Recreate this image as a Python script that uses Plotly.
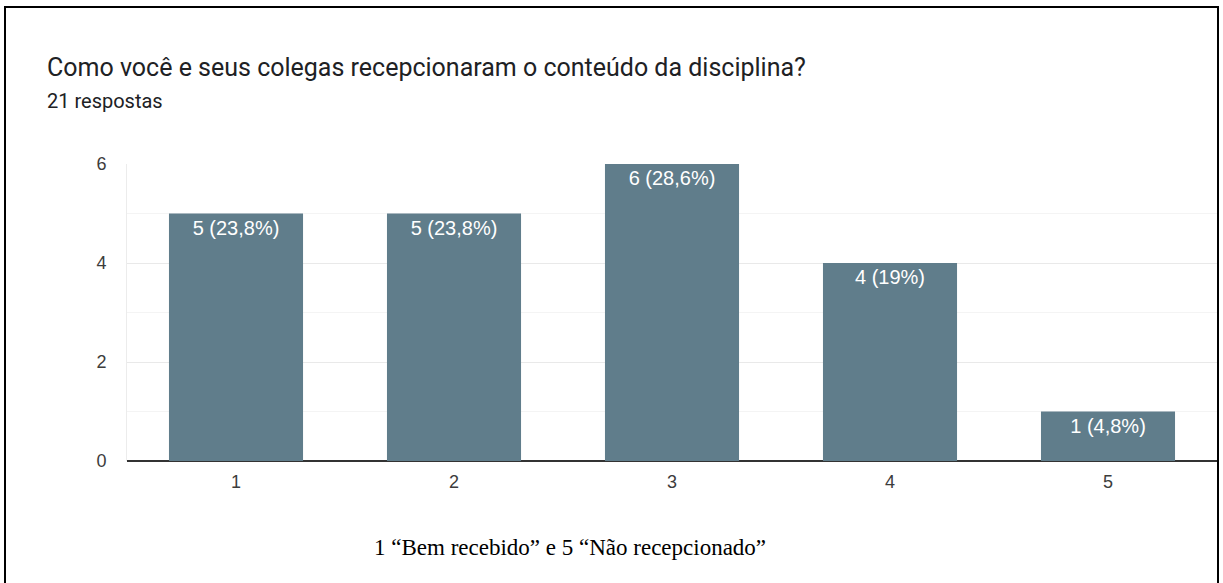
import plotly.graph_objects as go

categories = ["1", "2", "3", "4", "5"]
values = [5, 5, 6, 4, 1]
labels = ["5 (23,8%)", "5 (23,8%)", "6 (28,6%)", "4 (19%)", "1 (4,8%)"]
y_ticks = [0, 2, 4, 6]

W, H = 1223, 583
L, R, T, B = 127, 6, 164, 122
PW, PH = W - L - R, H - T - B

def px(x):
    return (x - L) / PW

def py(y):
    return (H - B - y) / PH

fig = go.Figure(go.Bar(
    x=categories, y=values, text=labels,
    textposition="inside", insidetextanchor="end",
    textfont=dict(family="Arial, Liberation Sans", size=20, color="white"),
    marker=dict(color="#607d8b", line=dict(width=0)),
    width=0.615, hoverinfo="skip",
))

fig.update_layout(
    width=W, height=H,
    margin=dict(l=L, r=R, t=T, b=B),
    paper_bgcolor="white", plot_bgcolor="white",
    showlegend=False,
    xaxis=dict(
        type="category", showgrid=False, zeroline=False,
        showline=False, ticks="", ticklabelstandoff=8,
        tickfont=dict(family="Arial, Liberation Sans", size=18, color="#3c3c3c"),
    ),
    yaxis=dict(
        range=[0, 6], tickvals=y_ticks, showgrid=True, gridcolor="#e9e9e9",
        gridwidth=1, zeroline=True, zerolinecolor="#333333", zerolinewidth=1.5,
        showline=True, linecolor="#ececec", linewidth=1,
        ticks="", ticklen=0, ticklabelstandoff=16,
        tickfont=dict(family="Arial, Liberation Sans", size=18, color="#3c3c3c"),
        minor=dict(dtick=1, showgrid=True, gridcolor="#f4f4f4", gridwidth=1),
    ),
    uniformtext=dict(mode=False),
    annotations=[
        dict(text="Como você e seus colegas recepcionaram o conteúdo da disciplina?",
             x=px(45), y=py(67), xref="paper", yref="paper",
             xanchor="left", yanchor="middle", showarrow=False,
             font=dict(family="Roboto", size=25, color="#202124")),
        dict(text="21 respostas",
             x=px(45), y=py(101), xref="paper", yref="paper",
             xanchor="left", yanchor="middle", showarrow=False,
             font=dict(family="Roboto", size=20, color="#202124")),
        dict(text="1 “Bem recebido” e 5 “Não recepcionado”",
             x=px(570), y=py(547), xref="paper", yref="paper",
             xanchor="center", yanchor="middle", showarrow=False,
             font=dict(family="Liberation Serif", size=23, color="black")),
    ],
    shapes=[
        dict(type="rect", xref="paper", yref="paper",
             x0=px(5), x1=px(1218), y0=py(600), y1=py(7),
             line=dict(color="black", width=2), fillcolor="rgba(0,0,0,0)",
             layer="above"),
    ],
)

fig.write_html("out.html",
               config={"displayModeBar": False},
               post_script="document.body.style.margin='0px';document.body.style.overflow='hidden';")
